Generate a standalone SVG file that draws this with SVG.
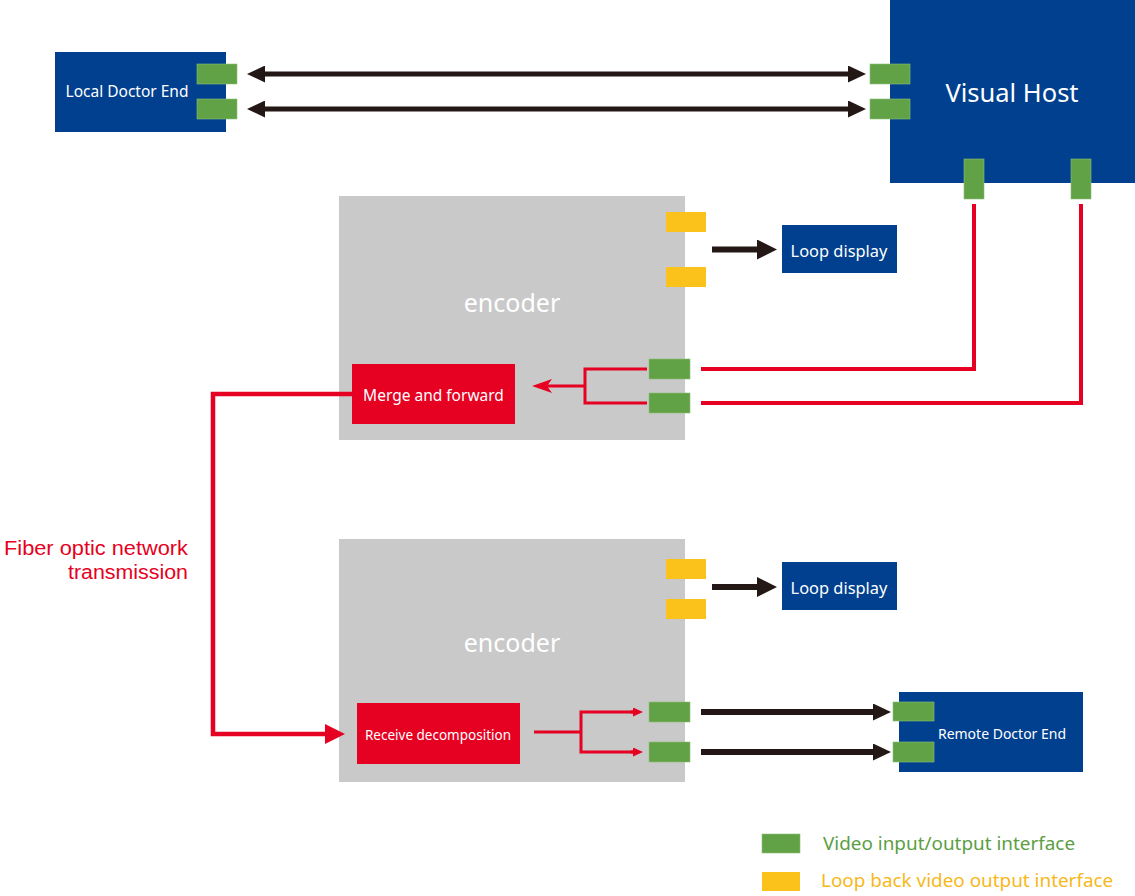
<svg xmlns="http://www.w3.org/2000/svg" width="1135" height="896" viewBox="0 0 1135 896">
<style>
.blue{fill:#00408f}
.gray{fill:#c9c9c9}
.red{fill:#e60021}
.gp{fill:#62a247;stroke:#8cc07a;stroke-width:0.6}
.yp{fill:#fbc21c}
.wt{fill:#ffffff;font-family:"Noto Sans","Liberation Sans",sans-serif;text-anchor:middle}
.blk{stroke:#231815;fill:none}
.rl{stroke:#e60021;fill:none}
.fb{font-family:"Liberation Sans",Arial,sans-serif;font-size:20.5px;fill:#e60021;text-anchor:end}
</style>
<defs>
<marker id="mb" markerUnits="userSpaceOnUse" markerWidth="18" markerHeight="17" refX="8" refY="8.5" orient="auto-start-reverse"><path d="M0,0 L18,8.5 L0,17 Z" fill="#231815"/></marker>
<marker id="mb2" markerUnits="userSpaceOnUse" markerWidth="20" markerHeight="20" refX="8" refY="10" orient="auto"><path d="M0,0 L20,10 L0,20 Z" fill="#231815"/></marker>
<marker id="mr1" markerUnits="userSpaceOnUse" markerWidth="20" markerHeight="20" refX="8" refY="10" orient="auto"><path d="M0,0 L20,10 L0,20 Z" fill="#e60021"/></marker>
<marker id="mr2" markerUnits="userSpaceOnUse" markerWidth="20" markerHeight="14" refX="8" refY="7" orient="auto"><path d="M0,0 L20,7 L0,14 L5,7 Z" fill="#e60021"/></marker>
<marker id="mr3" markerUnits="userSpaceOnUse" markerWidth="10" markerHeight="9" refX="3" refY="4.5" orient="auto"><path d="M0,0 L10,4.5 L0,9 Z" fill="#e60021"/></marker>
</defs>

<g id="local-doctor-end">
<rect class="blue" x="55" y="52" width="171" height="80"/>
<rect class="gp" x="197" y="64" width="40" height="20"/>
<rect class="gp" x="197" y="99" width="40" height="20"/>
<text class="wt" x="127" y="97" font-size="15.5">Local Doctor End</text>
</g>

<g id="visual-host">
<rect class="blue" x="890" y="0" width="245" height="183"/>
<rect class="gp" x="870" y="64" width="40" height="20"/>
<rect class="gp" x="870" y="99" width="40" height="20"/>
<rect class="gp" x="964" y="159" width="20" height="40"/>
<rect class="gp" x="1071" y="159" width="20" height="40"/>
<text class="wt" x="1012" y="102" font-size="25.5">Visual Host</text>
</g>

<g id="encoder-1">
<rect class="gray" x="339" y="196" width="346" height="244"/>
<text class="wt" x="512" y="312" font-size="25">encoder</text>
<rect class="yp" x="666" y="212" width="40" height="20"/>
<rect class="yp" x="666" y="267" width="40" height="20"/>
<rect class="gp" x="649" y="359" width="41" height="20"/>
<rect class="gp" x="649" y="393" width="41" height="20"/>
</g>

<g id="merge-and-forward">
<rect class="red" x="352" y="364" width="163" height="60"/>
<text class="wt" x="433.5" y="401" font-size="15.5">Merge and forward</text>
</g>

<g id="loop-display-1">
<rect class="blue" x="782" y="225" width="115" height="48"/>
<text class="wt" x="839" y="257" font-size="16.4">Loop display</text>
</g>

<g id="encoder-2">
<rect class="gray" x="339" y="539" width="346" height="243"/>
<text class="wt" x="512" y="652" font-size="25">encoder</text>
<rect class="yp" x="666" y="559" width="40" height="20"/>
<rect class="yp" x="666" y="599" width="40" height="20"/>
<rect class="gp" x="649" y="702" width="41" height="20"/>
<rect class="gp" x="649" y="742" width="41" height="20"/>
</g>

<g id="receive-decomposition">
<rect class="red" x="357" y="703" width="163" height="61"/>
<text class="wt" x="438" y="740" font-size="13.5">Receive decomposition</text>
</g>

<g id="loop-display-2">
<rect class="blue" x="782" y="562" width="115" height="48"/>
<text class="wt" x="839" y="594" font-size="16.4">Loop display</text>
</g>

<g id="remote-doctor-end">
<rect class="blue" x="899" y="692" width="184" height="80"/>
<rect class="gp" x="893" y="702" width="41" height="19"/>
<rect class="gp" x="893" y="742" width="41" height="20"/>
<text class="wt" x="1002" y="739" font-size="14">Remote Doctor End</text>
</g>

<g id="connectors">
<line class="blk" x1="257" y1="74" x2="856" y2="74" stroke-width="5" marker-start="url(#mb)" marker-end="url(#mb)"/>
<line class="blk" x1="257" y1="109" x2="856" y2="109" stroke-width="5" marker-start="url(#mb)" marker-end="url(#mb)"/>
<line class="blk" x1="712" y1="249.5" x2="765" y2="249.5" stroke-width="6" marker-end="url(#mb2)"/>
<line class="blk" x1="712" y1="587" x2="765" y2="587" stroke-width="6" marker-end="url(#mb2)"/>
<line class="blk" x1="701" y1="712" x2="881" y2="712" stroke-width="6" marker-end="url(#mb)"/>
<line class="blk" x1="701" y1="752" x2="881" y2="752" stroke-width="6" marker-end="url(#mb)"/>
<polyline class="rl" points="974,204 974,369 701,369" stroke-width="4"/>
<polyline class="rl" points="1081,204 1081,403 701,403" stroke-width="4"/>
<polyline class="rl" points="647,369 585,369 585,403 647,403" stroke-width="3"/>
<line class="rl" x1="585" y1="386" x2="544" y2="386" stroke-width="3" marker-end="url(#mr2)"/>
<polyline class="rl" points="352,394 213,394 213,734 333,734" stroke-width="4.5" marker-end="url(#mr1)"/>
<line class="rl" x1="534" y1="732" x2="581" y2="732" stroke-width="3"/>
<polyline class="rl" points="636,712 581,712 581,752 636,752" stroke-width="3"/>
<line class="rl" x1="630" y1="712" x2="636" y2="712" stroke-width="3" marker-end="url(#mr3)"/>
<line class="rl" x1="630" y1="752" x2="636" y2="752" stroke-width="3" marker-end="url(#mr3)"/>
</g>

<g id="fiber-label">
<text class="fb" x="188" y="555" textLength="184" lengthAdjust="spacingAndGlyphs">Fiber optic network</text>
<text class="fb" x="188" y="579" textLength="120" lengthAdjust="spacingAndGlyphs">transmission</text>
</g>

<g id="legend" font-family="'Noto Sans','Liberation Sans',sans-serif" font-size="18.9">
<rect class="gp" x="762" y="834" width="38" height="19"/>
<text x="823" y="850" fill="#5c9e44">Video input/output interface</text>
<rect class="yp" x="762" y="872" width="38" height="19"/>
<text x="821" y="887" fill="#f7b81a">Loop back video output interface</text>
</g>
</svg>
